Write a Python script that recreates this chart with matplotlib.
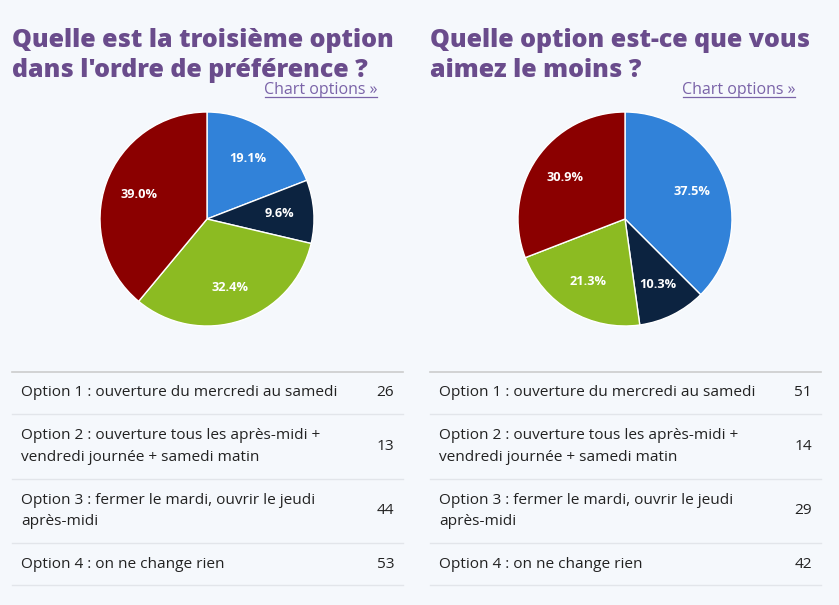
import matplotlib.pyplot as plt

# ---------------- Data ----------------

options = [
    "Option 1 : ouverture du mercredi au samedi",
    "Option 2 : ouverture tous les après-midi +\nvendredi journée + samedi matin",
    "Option 3 : fermer le mardi, ouvrir le jeudi\naprès-midi",
    "Option 4 : on ne change rien",
]
third_choice = [26, 13, 44, 53]
least_liked = [51, 14, 29, 42]

titles = [
    "Quelle est la troisième option\ndans l'ordre de préférence ?",
    "Quelle option est-ce que vous\naimez le moins ?",
]

colors = ["#3182d9", "#0c2340", "#8cbb22", "#8b0000"]

W, H = 839, 605
bg = "#f5f8fc"
purple = "#6a4c8c"

plt.rcParams["font.family"] = ["Open Sans", "DejaVu Sans"]

fig = plt.figure(figsize=(W / 100, H / 100), dpi=100, facecolor=bg)

# full-figure axes in pixel coordinates for text and table lines
base = fig.add_axes([0, 0, 1, 1])
base.set_xlim(0, W)
base.set_ylim(H, 0)
base.axis("off")

panels = [
    (0, third_choice, titles[0]),
    (418, least_liked, titles[1]),
]

for x0, values, title in panels:

    # ---------------- Title ----------------
    base.text(x0 + 12, 77, title, fontsize=18, fontweight="heavy",
              color=purple, va="baseline", linespacing=1.27)
    base.text(x0 + 377, 94, "Chart options »", fontsize=11.5,
              color="#7a63a8", ha="right", va="baseline")
    base.plot([x0 + 265, x0 + 377], [97, 97], color="#7a63a8", lw=0.9)

    # ---------------- Pie ----------------
    cx, cy, r = x0 + 207, 219, 107
    ax = fig.add_axes([(cx - r) / W, 1 - (cy + r) / H, 2 * r / W, 2 * r / H])
    wedges, texts, autotexts = ax.pie(
        values,
        colors=colors,
        startangle=90,
        counterclock=False,
        autopct="%1.1f%%",
        pctdistance=0.68,
        wedgeprops=dict(edgecolor="white", linewidth=1),
        textprops=dict(color="white", fontsize=9.2, fontweight="bold"),
    )
    ax.set_aspect("equal")
    ax.set_xlim(-1, 1)
    ax.set_ylim(-1, 1)
    ax.axis("off")

    # ---------------- Table ----------------
    lines = [372, 414, 479, 543, 585]
    base.plot([x0 + 12, x0 + 403], [lines[0], lines[0]], color="#cccccc", lw=1.2)
    for y in lines[1:]:
        base.plot([x0 + 12, x0 + 403], [y, y], color="#e2e5ea", lw=1)

    for i, (label, v) in enumerate(zip(options, values)):
        ym = (lines[i] + lines[i + 1]) / 2
        base.text(x0 + 21, ym, label, fontsize=11.1, color="#222222",
                  va="center", linespacing=1.6)
        base.text(x0 + 394, ym, str(v), fontsize=11.1, color="#222222",
                  va="center", ha="right")

fig.savefig("out.png", dpi=100, facecolor=bg)
